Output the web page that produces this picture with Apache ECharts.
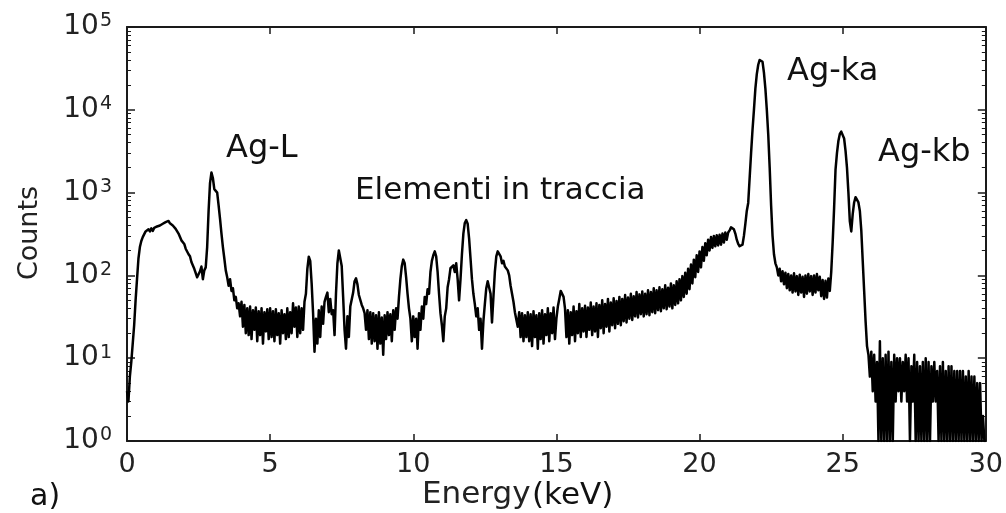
<!DOCTYPE html>
<html>
<head>
<meta charset="utf-8">
<script src="https://cdn.jsdelivr.net/npm/echarts@6/dist/echarts.min.js"></script>
<style>
html,body{margin:0;padding:0;background:#fff;}
#chart{width:1006px;height:513px;}
</style>
</head>
<body>
<div id="chart"></div>
<script>
// Spectrum counts, one channel every 0.05 keV (channel i -> energy i*0.05 keV)
const channelWidth = 0.05;
const counts0to5 = [
  4,3,6,9,15,25,50,90,160,220,260,290,300,340,330,360,340,370,345,375,
  360,390,370,400,385,420,400,440,420,455,425,435,400,410,365,360,320,310,265,255,
  240,210,205,180,170,145,145,120,120,95,92,112,128,90,115,125,220,600,1300,1750,
  1500,1100,1050,1000,700,480,320,220,160,115,95,75,90,65,70,50,55,40,46,32,
  48,24,44,20,40,19,42,17,38,22,41,16,37,19,40,15,36,21,39,17
];
const counts5to10 = [
  40,18,37,16,39,19,35,15,38,20,34,17,40,18,36,20,46,24,41,18,
  42,20,40,22,48,60,120,168,150,80,35,12,30,15,38,18,42,26,48,55,
  62,36,52,34,38,19,60,140,200,208,130,55,22,13,32,18,42,40,62,85,
  92,78,58,60,44,40,35,22,38,17,36,15,35,16,33,13,36,15,31,11,
  33,17,36,19,34,16,38,22,40,30,55,90,130,155,140,95,60,40,30,16
];
const counts10to15 = [
  32,18,30,13,35,22,42,30,55,45,68,60,110,150,175,195,170,110,60,35,
  25,16,32,40,72,90,122,118,132,110,140,90,50,90,180,320,430,465,420,280,
  160,90,60,45,32,40,22,30,13,28,45,70,85,88,60,27,55,110,170,195,
  205,170,140,150,128,130,115,100,75,60,48,36,38,24,36,18,35,16,33,18,
  36,16,34,14,37,18,33,13,35,17,38,15,34,19,40,16,35,20,41,17
];
const counts15to20 = [
  30,42,52,65,67,55,40,18,38,15,36,19,42,16,37,20,45,18,40,21,
  43,18,41,22,47,19,42,21,46,18,44,23,50,20,45,24,52,21,47,25,
  53,23,49,26,55,25,52,28,58,27,54,30,60,29,56,32,63,31,59,34,
  64,32,60,34,66,33,63,36,70,35,66,38,72,37,68,40,76,39,71,42,
  80,40,76,44,85,46,90,50,98,55,108,60,120,68,135,80,155,95,175,110
];
const counts20to25 = [
  195,125,220,150,245,175,270,200,290,215,300,225,305,230,310,235,320,250,330,270,
  330,350,380,385,360,320,270,240,225,220,235,300,420,600,750,1500,3000,5700,10000,18000,
  27000,35000,40000,42000,38000,28000,18000,10000,5000,2000,700,300,180,140,125,100,120,85,112,78,
  108,70,104,66,100,62,106,64,98,58,102,62,96,55,100,60,104,64,98,58,
  100,62,104,66,96,56,88,52,86,54,92,65,110,250,650,1900,3000,4200,5100,5450
];
const counts25to30 = [
  5200,4500,3200,2000,1000,450,340,550,760,880,880,760,600,350,150,65,28,14,11,6,
  12,4,11,3,9,1,16,1,10,1,11,1,12,1,9,1,11,3,10,4,
  10,3,9,4,11,3,10,1,8,3,11,1,9,1,8,1,9,1,10,1,
  9,1,8,3,9,3,7,1,8,1,9,1,7,1,8,1,8,1,7,1,
  7,1,7,1,7,1,6,1,7,1,6,1,6,1,5,1,5,1,2,1,
  1
];
const xTicks = [0, 5, 10, 15, 20, 25, 30];
const yDecades = [1, 10, 100, 1000, 10000, 100000];
const peakLabels = ['Ag-L', 'Elementi in traccia', 'Ag-ka', 'Ag-kb'];

const allCounts = [].concat(counts0to5, counts5to10, counts10to15, counts15to20, counts20to25, counts25to30);
const seriesData = allCounts.map((c, i) => [Math.round(i * channelWidth * 100) / 100, c]);

const FONT = 'DejaVu Sans';
const chart = echarts.init(document.getElementById('chart'), null, {renderer: 'canvas'});

const axisLineStyle = {color: '#1a1a1a', width: 2};
const option = {
  animation: false,
  backgroundColor: '#ffffff',
  grid: {left: 127, right: 18, top: 27, bottom: 72, containLabel: false},
  xAxis: [
    {
      type: 'value', position: 'bottom', min: xTicks[0], max: xTicks[xTicks.length - 1], interval: 5,
      axisLine: {show: true, lineStyle: axisLineStyle, onZero: false},
      axisTick: {show: true, inside: true, length: 7, lineStyle: {color: '#1a1a1a', width: 1.5}},
      axisLabel: {show: true, margin: 10, fontFamily: FONT, fontSize: 27, color: '#222'},
      splitLine: {show: false}
    },
    {
      type: 'value', position: 'top', min: xTicks[0], max: xTicks[xTicks.length - 1], interval: 5,
      axisLine: {show: true, lineStyle: axisLineStyle, onZero: false},
      axisTick: {show: true, inside: true, length: 7, lineStyle: {color: '#1a1a1a', width: 1.5}},
      axisLabel: {show: false},
      splitLine: {show: false}
    }
  ],
  yAxis: [
    {
      type: 'log', logBase: 10, position: 'left', min: yDecades[0], max: yDecades[yDecades.length - 1],
      axisLine: {show: true, lineStyle: axisLineStyle, onZero: false},
      axisTick: {show: true, inside: true, length: 8, lineStyle: {color: '#1a1a1a', width: 1.5}},
      minorTick: {show: true, splitNumber: 9, length: 4, lineStyle: {color: '#1a1a1a', width: 1}},
      axisLabel: {
        show: true, margin: 15, fontFamily: FONT, color: '#222',
        formatter: v => '{b|10}{s|' + Math.round(Math.log10(v)) + '}',
        rich: {
          b: {fontFamily: FONT, fontSize: 28, color: '#222', lineHeight: 30},
          s: {fontFamily: FONT, fontSize: 19, color: '#222', verticalAlign: 'top', lineHeight: 30, padding: [0, 0, 0, 1]}
        }
      },
      splitLine: {show: false}
    },
    {
      type: 'log', logBase: 10, position: 'right', min: yDecades[0], max: yDecades[yDecades.length - 1],
      axisLine: {show: true, lineStyle: axisLineStyle, onZero: false},
      axisTick: {show: true, inside: true, length: 8, lineStyle: {color: '#1a1a1a', width: 1.5}},
      minorTick: {show: true, splitNumber: 9, length: 4, lineStyle: {color: '#1a1a1a', width: 1}},
      axisLabel: {show: false},
      splitLine: {show: false}
    }
  ],
  series: [{
    type: 'line', xAxisIndex: 0, yAxisIndex: 0,
    data: seriesData, showSymbol: false, symbol: 'none',
    lineStyle: {color: '#000', width: 2.5, join: 'round'},
    sampling: null, clip: true
  }],
  graphic: [
    {type: 'text', left: 226, top: 133, style: {text: peakLabels[0], fontFamily: FONT, fontSize: 32, fill: '#111'}},
    {type: 'text', left: 355, top: 175, style: {text: peakLabels[1], fontFamily: FONT, fontSize: 31, fill: '#111'}},
    {type: 'text', left: 787, top: 56, style: {text: peakLabels[2], fontFamily: FONT, fontSize: 32, fill: '#111'}},
    {type: 'text', left: 878, top: 137, style: {text: peakLabels[3], fontFamily: FONT, fontSize: 32, fill: '#111'}},
    {type: 'text', left: 422, top: 479, style: {text: 'Energy', fontFamily: FONT, fontSize: 31, fill: '#222'}},
    {type: 'text', left: 532, top: 480, style: {text: '(keV)', fontFamily: FONT, fontSize: 31, fill: '#111'}},
    {type: 'text', left: 30, top: 482, style: {text: 'a)', fontFamily: FONT, fontSize: 30, fill: '#111'}},
    {type: 'text', x: 30, y: 233, rotation: Math.PI / 2,
      style: {text: 'Counts', fontFamily: FONT, fontSize: 27, fill: '#222', align: 'center', verticalAlign: 'middle'}}
  ]
};
chart.setOption(option);
</script>
</body>
</html>
